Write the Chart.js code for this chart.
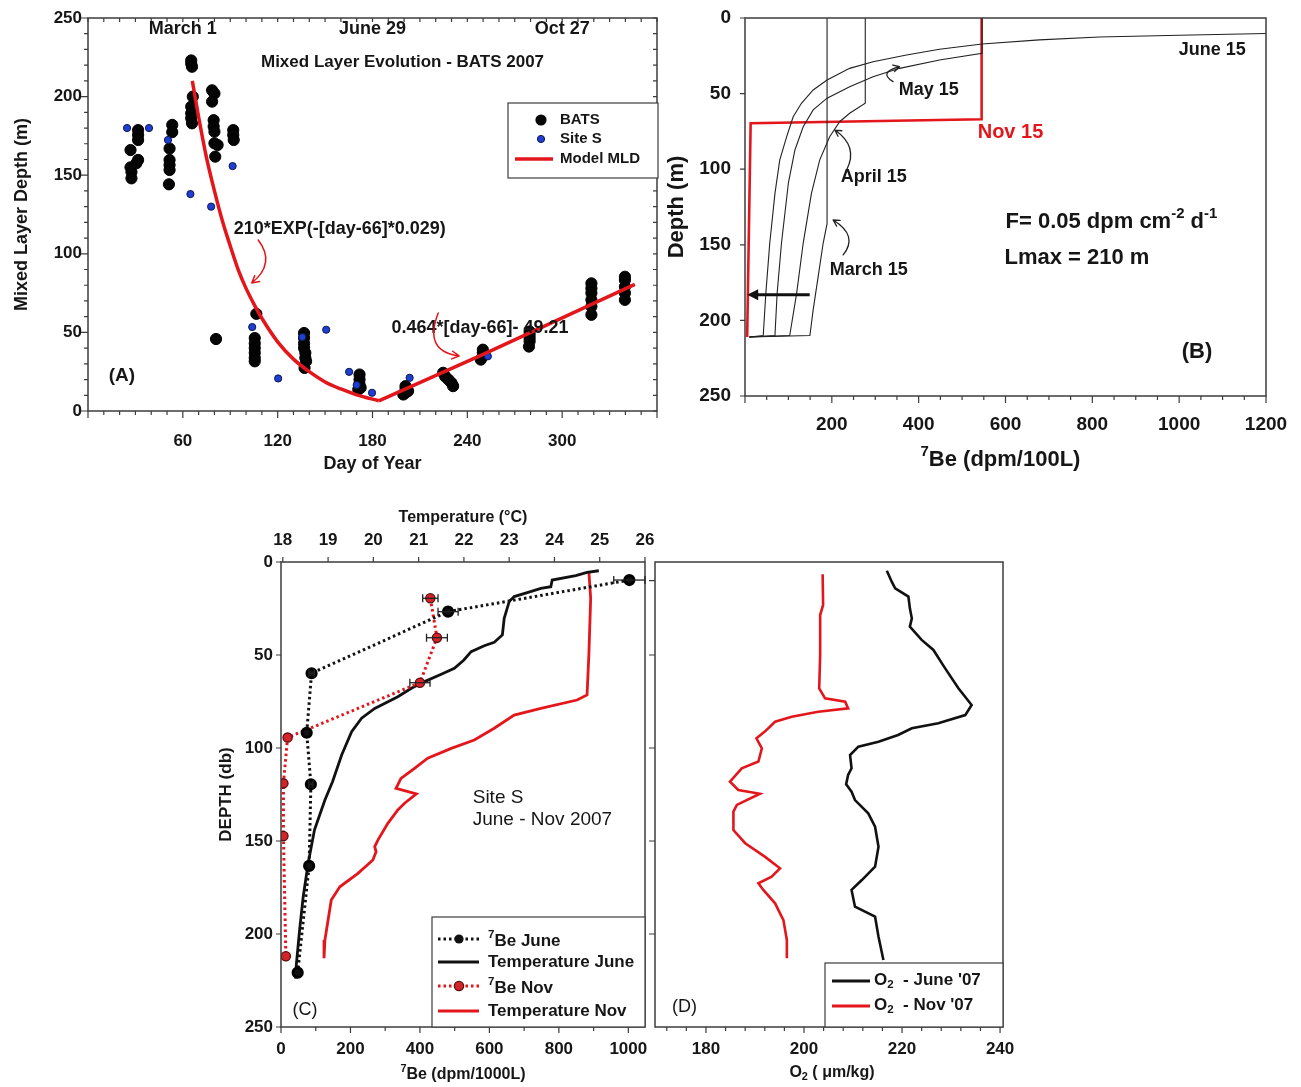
<!DOCTYPE html>
<html><head><meta charset="utf-8"><title>Mixed layer and 7Be profiles - BATS 2007</title>
<script src="https://cdn.jsdelivr.net/npm/chart.js@4.4.1/dist/chart.umd.min.js"></script>
<style>
html,body{margin:0;padding:0;background:#fff;}
body{width:1301px;height:1087px;position:relative;overflow:hidden;}
canvas{position:absolute;}
</style></head>
<body>
<canvas id="cA" width="670" height="485" style="left:0px;top:0px"></canvas>
<canvas id="cB" width="641" height="480" style="left:660px;top:0px"></canvas>
<canvas id="cC" width="450" height="587" style="left:205px;top:500px"></canvas>
<canvas id="cD" width="400" height="587" style="left:640px;top:500px"></canvas>
<script>
// ================= DATA =================
// Panel A : mixed layer depth vs day of year
const dayTicks = [60, 120, 180, 240, 300];
const mldTicks = [0, 50, 100, 150, 200, 250];
const dateDays = [60, 180, 300];
const dateLabels = ['March 1', 'June 29', 'Oct 27'];
const batsDay = [26.9,26.9,27.5,27.5,31.7,31.7,31.7,31.7,30.6,
  53.3,53.3,51.6,51.6,51.6,51.6,51.2,
  65.3,65.3,65.8,66.3,65.3,65.3,65.3,65.8,
  78.5,80,78.5,79.5,79.5,80,80,82,80.5,
  91.9,91.9,92.2,
  81,
  106.5,105.5,105.5,105.5,105.5,105.5,105.5,
  136.7,136.7,136.7,136.7,137.5,137.5,138,137,
  171.8,171.8,171.8,172.5,171,
  200.9,200.9,200.9,199.5,202.5,
  224.7,226,228,230,231,
  249.8,249.8,249.8,248.5,
  279.4,279.4,279.4,279.4,279,
  318.5,318.5,318.5,318.5,318.5,318.5,
  339.7,339.7,339.7,339.7,339.7];
const batsMLD = [166,155,152,148,178.7,175.6,172.4,159.7,157.6,
  182,177.4,167,159.7,156.5,153.3,144.2,
  221,223,219,200,193.6,189.4,186.2,183,
  204,202,196.8,185,181,177.7,170.3,169.2,161.8,
  178.7,175.6,172.4,
  45.8,
  61.8,46.4,43,40,37,33.8,31.6,
  49.6,46.4,43,40,37,33.8,31.6,27.4,
  23.2,20,16.9,14.8,13.7,
  15.8,13.7,11.6,10.5,12.7,
  24.3,22,20,17.9,15.8,
  39,37,34.8,32.7,
  50.6,48.5,46.4,44.3,41,
  81.2,78,75,70.7,66.5,61.2,
  85.4,83.3,79,75,70.7];
const siteSDay = [24.7,38.6,50.6,64.8,77.9,91.5,103.9,120.3,135.6,150.7,165.2,170,179.7,203.5,253];
const siteSMLD = [180,180,172.4,138,130,155.8,53.4,20.7,47,51.7,24.9,16.5,11.6,21.1,34.8];
const modelExpDay = [66,70,75,80,85,90,95,100,105,110,120,130,140,150,160,170,184];
const modelExpMLD = [210,187,161,140,121,105,90,78,68,59,44,33,25,18.5,14,10.3,6.5];
const modelLinDay = [184,250,346];
const modelLinMLD = [6.5,36,80.5];

// Panel B : modelled 7Be profiles (dpm/100L) vs depth
const beTicksB = [200, 400, 600, 800, 1000, 1200];
const depthTicksB = [0, 50, 100, 150, 200, 250];
const marchBe = [189,189,180,168.5,157,149.5,10];
const marchDepth = [0,136,149,171,193,210,211];
const aprilBe = [277,277,241,218,195,172,153,134,119,103,10];
const aprilDepth = [0,56.4,63,68.6,78.5,94,116,149,182,210,211];
const mayBe = [546,546,448,356,295,241,189,157,134,115,100,84,74,69,10];
const mayDepth = [0,23.4,27.8,33.3,38.8,45.4,53,60.8,71.9,87.3,109,149,182,210,211];
const juneBe = [1200,1000,816,678,546,448,372,295,241,189,157,130,111,96,80,69,57,48,42,10];
const juneDepth = [10.3,11.4,12.6,14.5,17.2,20.7,24.5,28.9,33.3,41,47.6,56.4,65.3,78.5,94,116,149,182,210,211];
const novBe = [545,545,13,5];
const novDepth = [0,67,69.6,211];

// Panel C : Site S 7Be (dpm/1000L) and temperature profiles
const beTicksC = [0, 200, 400, 600, 800, 1000];
const tempTicks = [18, 19, 20, 21, 22, 23, 24, 25, 26];
const depthTicksC = [0, 50, 100, 150, 200, 250];
const beJuneVal = [1003,481,88,74,86,81,48];
const beJuneDepth = [9.7,26.7,59.8,91.8,119.5,163.4,220.8];
const beJuneErr = [45,29,8,0,6,0,0];
const beNovVal = [430,449,400,19,7,7,14];
const beNovDepth = [19.5,40.7,64.9,94.4,119,147.3,212];
const beNovErr = [22,30,29,0,0,0,0];
const tempJune = [24.98,24.72,24.47,23.95,23.92,23.7,23.4,23.11,23.0,22.89,22.85,22.67,22.45,22.16,22.0,21.79,21.5,21.13,20.84,20.54,20.03,19.74,19.52,19.3,19.1,18.93,18.7,18.56,18.45,18.37,18.3,18.28];
const tempJuneDepth = [4.7,5.6,7.3,9.7,13.3,14.2,16.5,18.6,21.3,30.3,39.2,43.2,45,48.2,52.7,57.2,60.4,64.3,67.9,72.4,78.7,84,91.2,103.8,118,128,144,162,180,198,216,224];
const tempNov = [24.76,24.8,24.76,24.72,24.5,23.7,23.11,22.67,22.23,21.72,21.2,20.91,20.61,20.5,20.95,20.69,20.54,20.32,20.1,20.03,20.06,19.99,19.66,19.26,19.07,19.0,18.93,18.91];
const tempNovDepth = [5.2,19.5,50,71.5,74.2,78.7,82.3,89.4,95.7,100.2,105.5,110.9,116.3,121.7,124.7,129.7,133.3,140.5,149.5,153,155.8,160.2,167.4,174.6,181.7,192.5,203.2,213];

// Panel D : dissolved oxygen profiles
const o2Ticks = [180, 200, 220, 240];
const o2June = [216.9,217.9,218.6,221.3,221.6,222,221.6,224,226.4,228.8,231.5,234.2,232.9,227.4,222,219.2,215.2,211.1,209.4,209.7,209.0,208.6,209.7,210.4,213.1,214.5,215.2,214.5,211.8,209.7,210.4,214.5,215.2,216.2];
const o2JuneDepth = [4.7,10.6,14.2,18.6,24.9,30.3,34.8,41.9,47.3,57.2,67.9,76.9,82.3,86.7,89.4,93,96.6,99.3,103.8,110.9,114.5,119.5,123.5,128,135.1,142.3,153.1,163.8,171,176.3,185.3,190.7,201.5,214];
const o2Nov = [203.8,203.9,203.3,203.3,203.1,204.3,208.4,209.0,202.9,197.5,194.1,192.0,190.3,191.4,190.7,187.3,184.9,186.6,191.0,186.3,185.6,185.6,188.0,192.0,195.1,193.4,190.7,191.7,194.1,195.8,196.5,196.5];
const o2NovDepth = [6.6,23.1,28.5,50,67.9,73.3,75.1,78.7,80.5,83.2,85.9,91.2,94.8,100.2,107.3,110.9,118.1,122.6,124.6,130.6,134.2,144.1,151.2,158.4,164.7,169.2,172.7,176.3,183.5,192.5,203.2,213];

// ================= STYLE / HELPERS =================
const FAM = '"Liberation Sans", Arial, sans-serif';
const RED = '#e3161b';
const INK = '#161616';
const AXIS = '#3c3c3c';
Chart.defaults.font.family = FAM;
Chart.defaults.color = INK;

const range = (a, b, s) => { const r = []; for (let v = a; v <= b + 1e-9; v += s) r.push(Math.round(v * 1000) / 1000); return r; };
const pts = (xs, ys) => xs.map((x, i) => ({x: x, y: ys[i]}));
function setFont(ctx, size, weight) { ctx.font = (weight || 'bold') + ' ' + size + 'px ' + FAM; }
function drawText(ctx, s, x, y, size, o) {
  o = o || {};
  ctx.save(); setFont(ctx, size, o.weight); ctx.fillStyle = o.color || INK;
  ctx.textAlign = o.align || 'center'; ctx.textBaseline = 'middle';
  ctx.translate(x, y); if (o.rot) ctx.rotate(o.rot); ctx.fillText(s, 0, 0); ctx.restore();
}
function drawRich(ctx, parts, x, y, size, o) {
  o = o || {};
  ctx.save(); ctx.fillStyle = o.color || INK; ctx.textBaseline = 'middle'; ctx.textAlign = 'left';
  const items = parts.map(p => { const sz = p.v ? size * 0.68 : size; setFont(ctx, sz, o.weight); return {t: p.t, v: p.v, sz: sz, w: ctx.measureText(p.t).width}; });
  const W = items.reduce((a, b) => a + b.w, 0);
  let cx = o.align === 'left' ? x : (o.align === 'right' ? x - W : x - W / 2);
  items.forEach(it => {
    setFont(ctx, it.sz, o.weight);
    const dy = it.v === 'sup' ? -size * 0.36 : (it.v === 'sub' ? size * 0.28 : 0);
    ctx.fillText(it.t, cx, y + dy); cx += it.w;
  });
  ctx.restore();
}
function drawFrame(ctx, ca, color, w) {
  ctx.save(); ctx.strokeStyle = color; ctx.lineWidth = w;
  ctx.strokeRect(ca.left, ca.top, ca.right - ca.left, ca.bottom - ca.top); ctx.restore();
}
function drawTicks(ctx, ca, side, pixels, lens, dir, color, w) {
  ctx.save(); ctx.strokeStyle = color || AXIS; ctx.lineWidth = w || 1.2; ctx.beginPath();
  pixels.forEach((p, i) => {
    const L = (Array.isArray(lens) ? lens[i] : lens) * dir;
    if (side === 'bottom') { ctx.moveTo(p, ca.bottom); ctx.lineTo(p, ca.bottom + L); }
    else if (side === 'top') { ctx.moveTo(p, ca.top); ctx.lineTo(p, ca.top - L); }
    else if (side === 'left') { ctx.moveTo(ca.left, p); ctx.lineTo(ca.left - L, p); }
    else { ctx.moveTo(ca.right, p); ctx.lineTo(ca.right + L, p); }
  });
  ctx.stroke(); ctx.restore();
}
function openHead(ctx, fx, fy, tx, ty, size) {
  const a = Math.atan2(ty - fy, tx - fx);
  ctx.moveTo(tx - size * Math.cos(a - 0.5), ty - size * Math.sin(a - 0.5));
  ctx.lineTo(tx, ty);
  ctx.lineTo(tx - size * Math.cos(a + 0.5), ty - size * Math.sin(a + 0.5));
}
function curvedArrow(ctx, a, c, b, color, width, head) {
  ctx.save(); ctx.strokeStyle = color; ctx.lineWidth = width; ctx.lineCap = 'round'; ctx.lineJoin = 'round';
  ctx.beginPath(); ctx.moveTo(a[0], a[1]); ctx.quadraticCurveTo(c[0], c[1], b[0], b[1]);
  openHead(ctx, c[0], c[1], b[0], b[1], head); ctx.stroke(); ctx.restore();
}
function circle(ctx, x, y, r, fill, stroke, lw) {
  ctx.save(); ctx.beginPath(); ctx.arc(x, y, r, 0, Math.PI * 2); ctx.fillStyle = fill; ctx.fill();
  if (stroke) { ctx.strokeStyle = stroke; ctx.lineWidth = lw || 1; ctx.stroke(); }
  ctx.restore();
}
function line(ctx, x1, y1, x2, y2, color, w, dash) {
  ctx.save(); ctx.strokeStyle = color; ctx.lineWidth = w; if (dash) ctx.setLineDash(dash);
  ctx.beginPath(); ctx.moveTo(x1, y1); ctx.lineTo(x2, y2); ctx.stroke(); ctx.restore();
}
function axis(cfg) {
  return {
    type: 'linear', position: cfg.position, min: cfg.min, max: cfg.max, reverse: !!cfg.reverse,
    afterBuildTicks: s => { s.ticks = cfg.ticks.map(v => ({value: v})); },
    afterFit: s => {
      cfg.afterFit(s);
      // keep the plot area exactly where the layout padding puts it
      s.paddingTop = 0; s.paddingBottom = 0; s.paddingLeft = 0; s.paddingRight = 0;
    },
    grid: {display: false, drawTicks: false},
    border: {display: false},
    ticks: {display: cfg.labels !== false, font: {family: FAM, size: cfg.size, weight: 'bold'}, color: INK,
      padding: cfg.pad, maxRotation: 0, minRotation: 0, autoSkip: false, includeBounds: false,
      callback: v => String(v)},
    title: cfg.title ? Object.assign({display: true, color: INK}, cfg.title) : {display: false}
  };
}
const baseOpts = {responsive: false, animation: false, events: [],
  plugins: {legend: {display: false}, tooltip: {enabled: false}}};

// ================= PANEL A =================
new Chart(document.getElementById('cA'), {
  type: 'scatter',
  data: {datasets: [
    {label: 'Model MLD', type: 'line', data: pts(modelExpDay, modelExpMLD), borderColor: RED, borderWidth: 3.5,
      pointRadius: 0, cubicInterpolationMode: 'monotone', fill: false, order: 0},
    {label: 'Model MLD linear', type: 'line', data: pts(modelLinDay, modelLinMLD), borderColor: RED, borderWidth: 3.5,
      pointRadius: 0, fill: false, order: 0},
    {label: 'Site S', data: pts(siteSDay, siteSMLD), pointRadius: 3.6, backgroundColor: '#1f3fd0',
      borderColor: '#0b1650', borderWidth: 1, order: 1},
    {label: 'BATS', data: pts(batsDay, batsMLD), pointRadius: 5.6, backgroundColor: '#050505',
      borderColor: '#000', borderWidth: 1, order: 2}
  ]},
  options: Object.assign({}, baseOpts, {
    layout: {padding: {left: 0, top: 18, right: 13, bottom: 0}},
    scales: {
      x: axis({position: 'bottom', min: 0, max: 360, ticks: dayTicks, size: 17, pad: 20,
        afterFit: s => { s.height = 74; },
        title: {text: 'Day of Year', font: {family: FAM, size: 18, weight: 'bold'}, padding: {top: 0, bottom: 10}}}),
      y: axis({position: 'left', min: 0, max: 250, ticks: mldTicks, size: 17, pad: 6,
        afterFit: s => { s.width = 88; },
        title: {text: 'Mixed Layer Depth (m)', font: {family: FAM, size: 18, weight: 'bold'}, padding: {top: 11, bottom: 0}}})
    }
  }),
  plugins: [{id: 'decoA', afterDraw(chart) {
    const ctx = chart.ctx, ca = chart.chartArea;
    const X = v => chart.scales.x.getPixelForValue(v), Y = v => chart.scales.y.getPixelForValue(v);
    drawFrame(ctx, ca, AXIS, 1.5);
    const d10 = range(0, 360, 10), m10 = range(0, 250, 10);
    drawTicks(ctx, ca, 'bottom', d10.map(X), d10.map(v => v % 60 === 0 ? 7 : 4), 1);
    drawTicks(ctx, ca, 'top', d10.map(X), 4, -1);
    drawTicks(ctx, ca, 'left', m10.map(Y), m10.map(v => v % 50 === 0 ? 7 : 4), 1);
    drawTicks(ctx, ca, 'right', m10.map(Y), 4, -1);
    dateDays.forEach((d, i) => drawText(ctx, dateLabels[i], X(d), ca.top + 11, 18));
    drawText(ctx, 'Mixed Layer Evolution - BATS 2007', X(199), Y(222), 17);
    drawText(ctx, '(A)', X(21.4), Y(22.3), 19);
    drawText(ctx, '210*EXP(-[day-66]*0.029)', X(159.3), Y(115.8), 18);
    drawText(ctx, '0.464*[day-66]- 49.21', X(248), Y(52.8), 18);
    curvedArrow(ctx, [X(107.7), Y(108.8)], [X(119), Y(94)], [X(103.6), Y(81.4)], RED, 1.5, 8);
    curvedArrow(ctx, [X(221.6), Y(62.3)], [X(212), Y(38)], [X(234.8), Y(35)], RED, 1.5, 8);
    // legend
    const bx = ca.right - 149, by = ca.top + 85, bw = 150, bh = 75;
    ctx.save(); ctx.fillStyle = '#fff'; ctx.fillRect(bx, by, bw, bh);
    ctx.strokeStyle = AXIS; ctx.lineWidth = 1.2; ctx.strokeRect(bx, by, bw, bh); ctx.restore();
    circle(ctx, bx + 33, by + 17, 5.6, '#050505');
    circle(ctx, bx + 33, by + 36, 3.6, '#1f3fd0', '#0b1650', 1);
    line(ctx, bx + 7, by + 56, bx + 45, by + 56, RED, 3.5);
    drawText(ctx, 'BATS', bx + 52, by + 17, 15, {align: 'left'});
    drawText(ctx, 'Site S', bx + 52, by + 36, 15, {align: 'left'});
    drawText(ctx, 'Model MLD', bx + 52, by + 56, 15, {align: 'left'});
  }}]
});

// ================= PANEL B =================
const thin = (lbl, xs, ys) => ({label: lbl, data: pts(xs, ys), showLine: true, borderColor: '#222', borderWidth: 1.1,
  pointRadius: 0, fill: false, order: 0});
new Chart(document.getElementById('cB'), {
  type: 'scatter',
  data: {datasets: [
    thin('March 15', marchBe, marchDepth),
    thin('April 15', aprilBe, aprilDepth),
    thin('May 15', mayBe, mayDepth),
    thin('June 15', juneBe, juneDepth),
    {label: 'Nov 15', data: pts(novBe, novDepth), showLine: true, borderColor: RED, borderWidth: 2.6,
      pointRadius: 0, fill: false, order: 1}
  ]},
  options: Object.assign({}, baseOpts, {
    layout: {padding: {left: 0, top: 18, right: 35, bottom: 0}},
    scales: {
      x: axis({position: 'bottom', min: 0, max: 1200, ticks: beTicksB, size: 19, pad: 17,
        afterFit: s => { s.height = 84; }}),
      y: axis({position: 'left', min: 0, max: 250, reverse: true, ticks: depthTicksB, size: 19, pad: 14,
        afterFit: s => { s.width = 85; },
        title: {text: 'Depth (m)', font: {family: FAM, size: 22, weight: 'bold'}, padding: {top: 4, bottom: 0}}})
    }
  }),
  plugins: [{id: 'decoB', afterDraw(chart) {
    const ctx = chart.ctx, ca = chart.chartArea;
    const X = v => chart.scales.x.getPixelForValue(v), Y = v => chart.scales.y.getPixelForValue(v);
    drawFrame(ctx, ca, AXIS, 1.5);
    const b50 = range(0, 1200, 50);
    drawTicks(ctx, ca, 'bottom', b50.map(X), b50.map(v => v % 200 === 0 ? 7 : 4), 1);
    drawTicks(ctx, ca, 'left', range(0, 250, 50).map(Y), 5, 1);
    drawRich(ctx, [{t: '7', v: 'sup'}, {t: 'Be (dpm/100L)'}], (ca.left + ca.right) / 2 - 5, ca.bottom + 64, 22);
    drawText(ctx, 'June 15', X(1076), Y(21.2), 18);
    drawText(ctx, 'May 15', X(423), Y(47.6), 18);
    drawText(ctx, 'Nov 15', X(611.5), Y(75.4), 20, {color: RED});
    drawText(ctx, 'April 15', X(296.6), Y(105.2), 18);
    drawText(ctx, 'March 15', X(285), Y(166.7), 18);
    drawRich(ctx, [{t: 'F= 0.05 dpm cm'}, {t: '-2', v: 'sup'}, {t: ' d'}, {t: '-1', v: 'sup'}], X(600), Y(135), 22, {align: 'left'});
    drawText(ctx, 'Lmax = 210 m', X(597.7), Y(158.7), 22, {align: 'left'});
    drawText(ctx, '(B)', X(1041), Y(221), 22);
    curvedArrow(ctx, [X(341), Y(42.1)], [X(306), Y(36)], [X(356), Y(32.2)], '#222', 1.3, 7);
    curvedArrow(ctx, [X(234), Y(100.5)], [X(262), Y(85)], [X(207), Y(74.1)], '#222', 1.3, 7);
    curvedArrow(ctx, [X(226), Y(156.7)], [X(262), Y(144)], [X(203), Y(133.6)], '#222', 1.3, 7);
    // thick arrow pointing to the Nov profile
    ctx.save(); ctx.strokeStyle = '#111'; ctx.fillStyle = '#111'; ctx.lineWidth = 3;
    const ax0 = X(149), ax1 = X(5), ay = Y(183);
    ctx.beginPath(); ctx.moveTo(ax0, ay); ctx.lineTo(ax1 + 8, ay); ctx.stroke();
    ctx.beginPath(); ctx.moveTo(ax1, ay); ctx.lineTo(ax1 + 11, ay - 5.5); ctx.lineTo(ax1 + 11, ay + 5.5); ctx.closePath(); ctx.fill();
    ctx.restore();
  }}]
});

// ================= PANEL C =================
new Chart(document.getElementById('cC'), {
  type: 'scatter',
  data: {datasets: [
    {label: '7Be June', data: pts(beJuneVal, beJuneDepth), xAxisID: 'x', showLine: true, borderColor: '#111',
      borderWidth: 3, borderDash: [2.5, 3], pointRadius: 4.6, pointBackgroundColor: '#111', pointBorderColor: '#000', order: 0},
    {label: '7Be Nov', data: pts(beNovVal, beNovDepth), xAxisID: 'x', showLine: true, borderColor: RED,
      borderWidth: 3, borderDash: [2.5, 3], pointRadius: 4.6, pointBackgroundColor: '#d4242a', pointBorderColor: '#5a0c0c', pointBorderWidth: 1.3, order: 1},
    {label: 'Temperature June', data: pts(tempJune, tempJuneDepth), xAxisID: 'x2', showLine: true, borderColor: '#111',
      borderWidth: 2.8, pointRadius: 0, fill: false, order: 2},
    {label: 'Temperature Nov', data: pts(tempNov, tempNovDepth), xAxisID: 'x2', showLine: true, borderColor: RED,
      borderWidth: 2.8, pointRadius: 0, fill: false, order: 3}
  ]},
  options: Object.assign({}, baseOpts, {
    layout: {padding: {left: 0, top: 0, right: 10, bottom: 0}},
    scales: {
      x: axis({position: 'bottom', min: 0, max: 1048, ticks: beTicksC, size: 17, pad: 12,
        afterFit: s => { s.height = 60; }}),
      x2: axis({position: 'top', min: 17.96, max: 26.0, ticks: tempTicks, size: 17, pad: 11,
        afterFit: s => { s.height = 62; },
        title: {text: 'Temperature (°C)', font: {family: FAM, size: 16, weight: 'bold'}, padding: {top: 8, bottom: 0}}}),
      y: axis({position: 'left', min: 0, max: 250, reverse: true, ticks: depthTicksC, size: 17, pad: 8,
        afterFit: s => { s.width = 76; },
        title: {text: 'DEPTH (db)', font: {family: FAM, size: 17, weight: 'bold'}, padding: {top: 11, bottom: 0}}})
    }
  }),
  plugins: [{id: 'decoC', afterDraw(chart) {
    const ctx = chart.ctx, ca = chart.chartArea;
    const X = v => chart.scales.x.getPixelForValue(v), T = v => chart.scales.x2.getPixelForValue(v), Y = v => chart.scales.y.getPixelForValue(v);
    drawFrame(ctx, ca, AXIS, 1.5);
    const b100 = range(0, 1000, 100);
    drawTicks(ctx, ca, 'bottom', b100.map(X), b100.map(v => v % 200 === 0 ? 6 : 4), 1);
    drawTicks(ctx, ca, 'top', tempTicks.map(T), 5, 1);
    drawTicks(ctx, ca, 'left', range(0, 250, 50).map(Y), 5, 1);
    // error bars
    const errBars = (vals, deps, errs) => vals.forEach((v, i) => {
      if (!errs[i]) return;
      const y = Y(deps[i]), x1 = X(v - errs[i]), x2 = X(v + errs[i]);
      line(ctx, x1, y, x2, y, '#222', 1.3); line(ctx, x1, y - 4, x1, y + 4, '#222', 1.3); line(ctx, x2, y - 4, x2, y + 4, '#222', 1.3);
    });
    errBars(beJuneVal, beJuneDepth, beJuneErr);
    errBars(beNovVal, beNovDepth, beNovErr);
    drawRich(ctx, [{t: '7', v: 'sup'}, {t: 'Be (dpm/1000L)'}], (ca.left + ca.right) / 2, ca.bottom + 48, 16);
    drawText(ctx, 'Site S', X(552), Y(126.9), 19, {align: 'left', weight: 'normal'});
    drawText(ctx, 'June - Nov 2007', X(552), Y(138.7), 19, {align: 'left', weight: 'normal'});
    drawText(ctx, '(C)', X(69), Y(240.9), 18, {weight: 'normal'});
    // legend
    const bx = ca.right - 213, by = ca.bottom - 110, bw = 213, bh = 110;
    ctx.save(); ctx.fillStyle = '#fff'; ctx.fillRect(bx, by, bw, bh);
    ctx.strokeStyle = AXIS; ctx.lineWidth = 1.2; ctx.strokeRect(bx, by, bw, bh); ctx.restore();
    const rows = [22, 45, 69, 94];
    line(ctx, bx + 6, by + rows[0], bx + 47, by + rows[0], '#111', 3, [2.5, 3]);
    circle(ctx, bx + 27, by + rows[0], 4.6, '#111');
    line(ctx, bx + 6, by + rows[1], bx + 47, by + rows[1], '#111', 3.2);
    line(ctx, bx + 6, by + rows[2], bx + 47, by + rows[2], RED, 3, [2.5, 3]);
    circle(ctx, bx + 27, by + rows[2], 4.6, '#d4242a', '#5a0c0c', 1.3);
    line(ctx, bx + 6, by + rows[3], bx + 47, by + rows[3], RED, 2.8);
    drawRich(ctx, [{t: '7', v: 'sup'}, {t: 'Be June'}], bx + 56, by + rows[0] + 2, 17, {align: 'left'});
    drawText(ctx, 'Temperature June', bx + 56, by + rows[1], 17, {align: 'left'});
    drawRich(ctx, [{t: '7', v: 'sup'}, {t: 'Be Nov'}], bx + 56, by + rows[2] + 2, 17, {align: 'left'});
    drawText(ctx, 'Temperature Nov', bx + 56, by + rows[3], 17, {align: 'left'});
  }}]
});

// ================= PANEL D =================
new Chart(document.getElementById('cD'), {
  type: 'scatter',
  data: {datasets: [
    {label: "O2 - June '07", data: pts(o2June, o2JuneDepth), showLine: true, borderColor: '#111', borderWidth: 2.6,
      pointRadius: 0, fill: false, order: 0},
    {label: "O2 - Nov '07", data: pts(o2Nov, o2NovDepth), showLine: true, borderColor: RED, borderWidth: 2.6,
      pointRadius: 0, fill: false, order: 1}
  ]},
  options: Object.assign({}, baseOpts, {
    layout: {padding: {left: 0, top: 62, right: 37, bottom: 0}},
    scales: {
      x: axis({position: 'bottom', min: 169.6, max: 240.6, ticks: o2Ticks, size: 17, pad: 12,
        afterFit: s => { s.height = 60; }}),
      y: axis({position: 'left', min: 0, max: 250, reverse: true, ticks: [], size: 17, pad: 0, labels: false,
        afterFit: s => { s.width = 15; }})
    }
  }),
  plugins: [{id: 'decoD', afterDraw(chart) {
    const ctx = chart.ctx, ca = chart.chartArea;
    const X = v => chart.scales.x.getPixelForValue(v), Y = v => chart.scales.y.getPixelForValue(v);
    drawFrame(ctx, ca, AXIS, 1.5);
    const o4 = range(172, 240, 4);
    drawTicks(ctx, ca, 'bottom', o4.map(X), o4.map(v => v % 20 === 0 ? 6 : 4), 1);
    drawTicks(ctx, ca, 'left', [10, 50, 100, 150, 200].map(Y), 6, 1);
    drawRich(ctx, [{t: 'O'}, {t: '2', v: 'sub'}, {t: ' ( μm/kg)'}], (ca.left + ca.right) / 2 + 3, ca.bottom + 46, 16);
    drawText(ctx, '(D)', X(175.6), Y(239), 18, {weight: 'normal'});
    const bx = ca.right - 178, by = ca.bottom - 64, bw = 178, bh = 64;
    ctx.save(); ctx.fillStyle = '#fff'; ctx.fillRect(bx, by, bw, bh);
    ctx.strokeStyle = AXIS; ctx.lineWidth = 1.2; ctx.strokeRect(bx, by, bw, bh); ctx.restore();
    line(ctx, bx + 7, by + 18, bx + 45, by + 18, '#111', 3);
    line(ctx, bx + 7, by + 43, bx + 45, by + 43, RED, 3);
    drawRich(ctx, [{t: 'O'}, {t: '2', v: 'sub'}, {t: "  - June '07"}], bx + 49, by + 17, 17, {align: 'left'});
    drawRich(ctx, [{t: 'O'}, {t: '2', v: 'sub'}, {t: "  - Nov '07"}], bx + 49, by + 42, 17, {align: 'left'});
  }}]
});
</script>
</body></html>
